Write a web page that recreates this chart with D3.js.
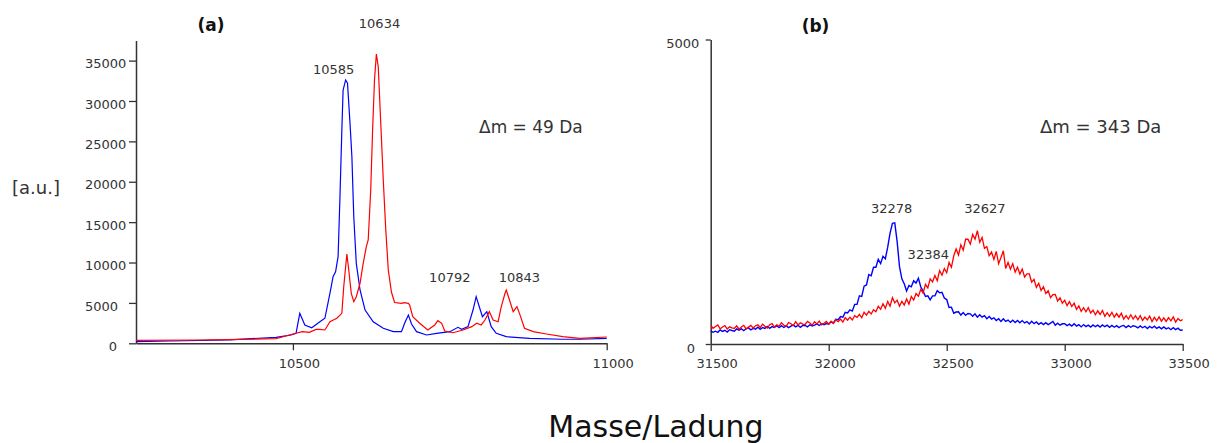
<!DOCTYPE html>
<html>
<head>
<meta charset="utf-8">
<title>Masse/Ladung</title>
<script src="https://cdn.jsdelivr.net/npm/d3@7/dist/d3.min.js"></script>
<style>
body{margin:0;background:#fff;}
svg text{font-family:"DejaVu Sans",sans-serif;fill:#333;}
</style>
</head>
<body>
<script>
// ---- panel (a): [mass, intensity]
var blueA = [
  [10250,200],[10304,285],[10400,430],[10473,740],[10497,1030],[10505,1240],[10511,3710],
  [10519,2270],[10530,1930],[10543,2670],[10551,3100],[10559,6190],[10564,8240],[10568,8860],
  [10572,10720],[10575,18150],[10578,26400],[10580,31360],[10584,32600],[10587,32190],
  [10591,27240],[10594,23100],[10597,15670],[10601,9900],[10607,6600],[10615,4120],
  [10628,2670],[10644,1860],[10660,1440],[10673,1440],[10678,2480],[10684,3500],[10689,2390],
  [10697,1440],[10713,1030],[10729,1240],[10750,1440],[10763,1980],[10769,1730],[10779,2060],
  [10787,4120],[10792,5770],[10797,4530],[10802,3290],[10809,3910],[10816,2060],[10824,1240],
  [10840,820],[10877,620],[10930,500],[10957,500],[11000,620]
];
var redA = [
  [10250,350],[10352,410],[10473,570],[10505,1240],[10515,1440],[10526,1360],[10537,1730],
  [10543,1730],[10551,1650],[10559,2670],[10570,3100],[10578,3710],[10581,7010],[10586,11060],
  [10589,9070],[10593,6190],[10597,5150],[10601,5770],[10607,7430],[10612,9900],[10617,11960],
  [10620,12790],[10624,18980],[10627,26400],[10630,32600],[10633,35810],[10636,34240],
  [10640,27240],[10644,20220],[10648,14030],[10652,9070],[10657,6350],[10662,5050],[10673,4950],
  [10677,5030],[10684,4950],[10686,4740],[10691,3290],[10702,2480],[10715,1650],[10726,2270],
  [10731,2800],[10737,2480],[10742,1520],[10755,1310],[10771,1650],[10785,2060],[10793,2480],
  [10800,2270],[10806,2880],[10813,3910],[10819,2880],[10827,2670],[10832,4530],[10838,6190],
  [10840,6600],[10846,5150],[10851,3910],[10857,4530],[10861,3710],[10869,1860],[10883,1440],
  [10904,1150],[10930,820],[10957,620],[11000,780]
];

// ---- panel (b): intensities every 10 Da from 31500 to 33500
var massB = d3.range(31500, 33501, 10);
var blueB = [
  215,192,210,192,230,207,225,197,235,222,
  210,248,227,250,219,252,265,233,256,244,
  275,242,270,257,290,257,285,272,300,268,
  300,271,297,268,294,310,281,307,273,304,
  305,282,315,294,311,330,304,333,317,336,
  325,365,345,405,400,450,440,520,510,560,
  540,650,650,790,780,950,970,1140,1120,1260,
  1260,1390,1320,1440,1400,1590,1820,1980,1990,1680,
  1270,1070,990,870,960,940,1040,1000,1080,940,
  870,780,790,725,790,790,875,840,850,755,
  730,600,605,505,525,530,475,515,470,500,
  495,455,495,440,480,440,465,415,450,410,
  430,385,415,370,415,370,393,355,392,353,
  385,347,384,346,368,330,372,334,361,323,
  350,318,351,319,342,370,308,341,309,332,
  335,303,326,294,332,295,318,281,319,287,
  310,279,314,284,309,279,314,284,309,274,
  305,275,300,270,295,305,270,300,275,300,
  290,264,298,267,291,255,289,263,292,256,
  280,248,281,249,267,235,268,236,259,227,
  230
];
var redB = [
  305,258,288,313,248,278,303,247,282,265,
  255,298,243,280,307,245,277,305,262,300,
  315,273,326,293,262,317,335,278,315,292,
  350,307,293,350,332,304,366,313,350,328,
  320,370,345,310,365,330,375,315,340,370,
  325,373,336,399,367,410,360,433,390,440,
  395,464,438,487,431,520,474,537,493,563,
  530,620,570,660,585,700,620,760,675,720,
  620,700,640,740,655,780,720,830,785,895,
  835,980,920,1070,1020,1125,1040,1205,1130,1240,
  1170,1340,1260,1450,1560,1460,1630,1540,1720,1720,
  1640,1800,1720,1860,1670,1750,1570,1600,1450,1510,
  1390,1520,1320,1420,1530,1240,1340,1230,1320,1180,
  1260,1150,1230,1100,1150,1150,1015,1060,930,995,
  880,940,830,875,760,810,815,705,760,670,
  720,630,695,615,670,570,625,535,595,530,
  595,510,555,480,545,485,550,455,515,455,
  520,440,500,440,505,410,465,410,480,410,
  465,398,465,387,443,395,457,370,438,381,
  445,375,430,370,432,380,445,360,418,382,
  400
];

// peak labels: text, mass, intensity (label centre / baseline)
var peaksA = [["10634",10638,39000],["10585",10565,33340],["10792",10750,7590],["10843",10861,7590]];
var peaksB = [["32278",32267,2151],["32384",32422,1396],["32627",32662,2151]];

var width = 1218, height = 443;
var svg = d3.select("body").append("svg")
  .attr("width", width).attr("height", height);

// scales
var xa = d3.scaleLinear().domain([10250, 11000]).range([136, 606.7]);
var ya = d3.scaleLinear().domain([0, 37500]).range([343.3, 40.4]);
var xb = d3.scaleLinear().domain([31500, 33500]).range([710.7, 1182.7]);
var yb = d3.scaleLinear().domain([0, 5000]).range([344, 39.5]);

function styleAxis(g){
  g.selectAll("path.domain").attr("stroke", "#333").attr("stroke-width", 1.5);
  g.selectAll(".tick line").attr("stroke", "#333").attr("stroke-width", 1.3);
  g.selectAll("text").attr("font-family", "DejaVu Sans").attr("font-size", 13).attr("fill", "#333");
}

// ---- axes (a)
var gxa = svg.append("g").attr("transform", "translate(0," + ya(0) + ")");
gxa.call(d3.axisBottom(xa).tickValues([10250, 10750]).tickSize(4).tickSizeOuter(0).tickFormat(""));
gxa.call(d3.axisBottom(xa).tickValues([10500, 11000]).tickSize(7).tickSizeOuter(0).tickPadding(8).tickFormat(d3.format("d")));
styleAxis(gxa);
gxa.selectAll("text").attr("dx", 6);

var gya = svg.append("g").attr("transform", "translate(" + xa(10250) + ",0)");
gya.call(d3.axisLeft(ya).tickValues(d3.range(2500, 37501, 5000)).tickSize(4).tickSizeOuter(0).tickFormat(""));
gya.call(d3.axisLeft(ya).tickValues(d3.range(0, 35001, 5000)).tickSize(7).tickSizeOuter(0).tickFormat(d3.format("d")));
styleAxis(gya);
gya.selectAll("text")
  .attr("text-anchor", function(d){ return d === 0 ? "end" : "start"; })
  .attr("x", function(d){ return d === 0 ? -19 : -51; })
  .attr("y", 3);

// ---- axes (b)
var gxb = svg.append("g").attr("transform", "translate(0," + yb(0) + ")");
gxb.call(d3.axisBottom(xb).tickValues([31750, 32250, 32750, 33250]).tickSize(4).tickSizeOuter(0).tickFormat(""));
gxb.call(d3.axisBottom(xb).tickValues(d3.range(31500, 33501, 500)).tickSize(7).tickSizeOuter(0).tickPadding(8).tickFormat(d3.format("d")));
styleAxis(gxb);
gxb.selectAll("text").attr("dx", 6);

var gyb = svg.append("g").attr("transform", "translate(" + xb(31500) + ",0)");
gyb.call(d3.axisLeft(yb).tickValues([2500]).tickSize(3).tickSizeOuter(0).tickFormat(""));
gyb.call(d3.axisLeft(yb).tickValues([0, 5000]).tickSize(5).tickSizeOuter(0).tickFormat(d3.format("d")));
styleAxis(gyb);
gyb.selectAll("text")
  .attr("x", function(d){ return d === 0 ? -15.7 : -11.4; })
  .attr("y", 4);

// ---- traces
var lineA = d3.line().x(function(d){ return xa(d[0]); }).y(function(d){ return ya(d[1]); });
var lineB = d3.line().x(function(d, i){ return xb(massB[i]); }).y(function(d){ return yb(d); });

svg.append("path").datum(blueA).attr("d", lineA)
  .attr("fill", "none").attr("stroke", "#0000ff").attr("stroke-width", 1.2);
svg.append("path").datum(redA).attr("d", lineA)
  .attr("fill", "none").attr("stroke", "#ff0000").attr("stroke-width", 1.2);
svg.append("path").datum(blueB).attr("d", lineB)
  .attr("fill", "none").attr("stroke", "#0000ff").attr("stroke-width", 1.4);
svg.append("path").datum(redB).attr("d", lineB)
  .attr("fill", "none").attr("stroke", "#ff0000").attr("stroke-width", 1.3);

// ---- peak labels
svg.selectAll("text.peakA").data(peaksA).enter().append("text")
  .attr("class", "peakA")
  .attr("x", function(d){ return xa(d[1]); })
  .attr("y", function(d){ return ya(d[2]); })
  .attr("text-anchor", "middle").attr("font-size", 13)
  .text(function(d){ return d[0]; });
svg.selectAll("text.peakB").data(peaksB).enter().append("text")
  .attr("class", "peakB")
  .attr("x", function(d){ return xb(d[1]); })
  .attr("y", function(d){ return yb(d[2]); })
  .attr("text-anchor", "middle").attr("font-size", 13)
  .text(function(d){ return d[0]; });

// ---- titles and annotations
svg.append("text").attr("x", 211).attr("y", 31).attr("text-anchor", "middle")
  .attr("font-size", 17).attr("font-weight", "bold").style("fill", "#111").text("(a)");
svg.append("text").attr("x", 815.5).attr("y", 32).attr("text-anchor", "middle")
  .attr("font-size", 17).attr("font-weight", "bold").style("fill", "#111").text("(b)");

svg.append("text").attr("x", 479).attr("y", 133).attr("font-size", 17).text("\u0394m = 49 Da");
svg.append("text").attr("x", 1040).attr("y", 133).attr("font-size", 18).text("\u0394m = 343 Da");

svg.append("text").attr("x", 12).attr("y", 194).attr("font-size", 18).text("[a.u.]");

svg.append("text").attr("x", 656).attr("y", 437).attr("text-anchor", "middle")
  .attr("font-size", 30).style("fill", "#111").text("Masse/Ladung");
</script>
</body>
</html>
